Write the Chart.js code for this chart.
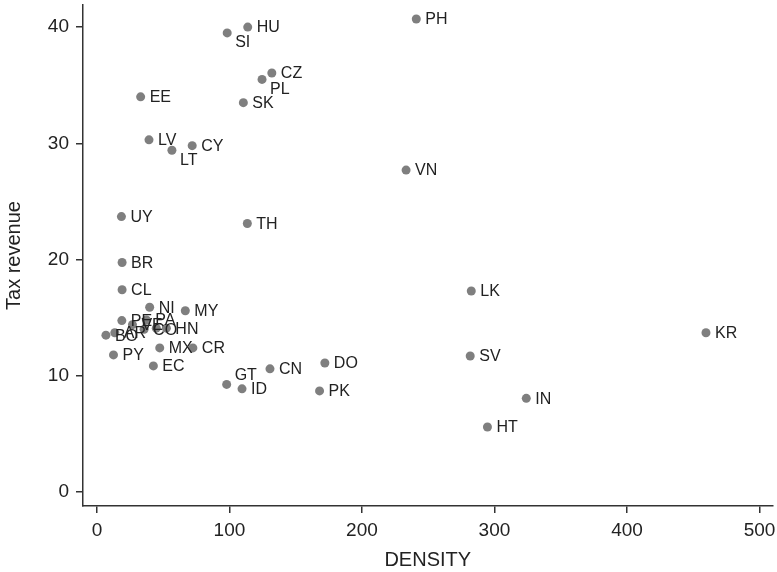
<!DOCTYPE html>
<html>
<head>
<meta charset="utf-8">
<script src="https://cdn.jsdelivr.net/npm/chart.js@4/dist/chart.umd.min.js"></script>
<style>
  html, body { margin: 0; padding: 0; background: #fff; }
  #wrap { width: 777px; height: 572px; }
</style>
</head>
<body>
<div id="wrap"><canvas id="chart" width="777" height="572"></canvas></div>
<script>
// Country codes, population density and tax revenue (% of GDP)
const countries = ['PH', 'HU', 'SI', 'CZ', 'PL', 'SK', 'EE', 'LV', 'LT', 'CY',
    'VN', 'UY', 'TH', 'BR', 'CL', 'LK', 'NI', 'MY', 'PE', 'VE',
    'PA', 'CO', '', 'HN', 'BO', 'AR', 'MX', 'CR', 'PY', 'EC',
    'GT', 'ID', 'CN', 'DO', 'PK', 'SV', 'KR', 'IN', 'HT'];
const density = [241, 113.8, 98.3, 132, 124.6, 110.5, 33, 39.3, 56.6, 71.9,
    233.3, 18.5, 113.5, 19, 19, 282.5, 39.8, 66.7, 18.8, 26.8,
    37.3, 35.6, 44.8, 52.4, 6.8, 13.5, 47.4, 72.4, 12.5, 42.6,
    97.9, 109.5, 130.6, 172, 168, 281.7, 459.6, 324, 294.7];
const taxRevenue = [40.7, 40.0, 39.5, 36.05, 35.5, 33.5, 34.0, 30.3, 29.4, 29.8,
    27.7, 23.7, 23.1, 19.75, 17.4, 17.3, 15.9, 15.6, 14.75, 14.4,
    14.8, 14.0, 14.1, 14.1, 13.5, 13.7, 12.4, 12.4, 11.8, 10.85,
    9.26, 8.88, 10.6, 11.1, 8.7, 11.7, 13.7, 8.06, 5.6];
// labels drawn below-right / above-right of the marker instead of to the right
const labelsBelow = ['SI', 'PL', 'LT'];
const labelsAbove = ['GT'];

const xTicks = [0, 100, 200, 300, 400, 500];
const yTicks = [0, 10, 20, 30, 40];

const points = density.map((d, i) => ({ x: d, y: taxRevenue[i] }));

const axisColor = '#333333';
const textColor = '#222222';
const fontFamily = '"Liberation Sans", Arial, Helvetica, sans-serif';

// Writes the country code next to each marker
const pointLabels = {
    id: 'pointLabels',
    afterDatasetsDraw(chart) {
        const ctx = chart.ctx;
        const meta = chart.getDatasetMeta(0);
        ctx.save();
        ctx.font = '16px ' + fontFamily;
        ctx.fillStyle = textColor;
        ctx.textAlign = 'left';
        ctx.textBaseline = 'middle';
        meta.data.forEach((pt, i) => {
            const name = countries[i];
            if (!name) return;
            if (labelsBelow.includes(name)) {
                ctx.fillText(name, pt.x + 8, pt.y + 10);
            } else if (labelsAbove.includes(name)) {
                ctx.fillText(name, pt.x + 8, pt.y - 9);
            } else {
                ctx.fillText(name, pt.x + 9, pt.y + 1);
            }
        });
        ctx.restore();
    }
};

// Keep tick-label overhang from shrinking the plot area
function noScalePadding(scale) {
    scale.paddingTop = 0;
    scale.paddingBottom = 0;
    scale.paddingLeft = 0;
    scale.paddingRight = 0;
}

new Chart(document.getElementById('chart').getContext('2d'), {
    type: 'scatter',
    data: {
        datasets: [{
            data: points,
            backgroundColor: '#7f7f7f',
            borderWidth: 0,
            pointRadius: 4.5,
            pointHoverRadius: 4.5
        }]
    },
    options: {
        responsive: false,
        animation: false,
        layout: { padding: { top: 5, right: 2, left: 0, bottom: 0 } },
        plugins: {
            legend: { display: false },
            tooltip: { enabled: false }
        },
        scales: {
            x: {
                type: 'linear',
                min: -10.5,
                max: 509.8,
                afterBuildTicks: scale => { scale.ticks = xTicks.map(v => ({ value: v })); },
                afterFit: scale => { scale.height = 66; noScalePadding(scale); },
                border: { display: true, color: axisColor, width: 1.5 },
                grid: { drawOnChartArea: false, drawTicks: true, tickLength: 7, color: axisColor, lineWidth: 1.5 },
                ticks: {
                    color: textColor,
                    padding: 6,
                    maxRotation: 0,
                    font: { family: fontFamily, size: 19 }
                },
                title: {
                    display: true,
                    text: 'DENSITY',
                    color: textColor,
                    padding: { top: 0, bottom: 0 },
                    font: { family: fontFamily, size: 20 }
                }
            },
            y: {
                type: 'linear',
                min: -1.2,
                max: 41.9,
                afterBuildTicks: scale => { scale.ticks = yTicks.map(v => ({ value: v })); },
                afterFit: scale => { scale.width = 83; noScalePadding(scale); },
                border: { display: true, color: axisColor, width: 1.5 },
                grid: { drawOnChartArea: false, drawTicks: true, tickLength: 7, color: axisColor, lineWidth: 1.5 },
                ticks: {
                    color: textColor,
                    padding: 7,
                    font: { family: fontFamily, size: 19 }
                },
                title: {
                    display: true,
                    text: 'Tax revenue',
                    color: textColor,
                    padding: { top: 2, bottom: 2 },
                    font: { family: fontFamily, size: 20 }
                }
            }
        }
    },
    plugins: [pointLabels]
});
</script>
</body>
</html>
